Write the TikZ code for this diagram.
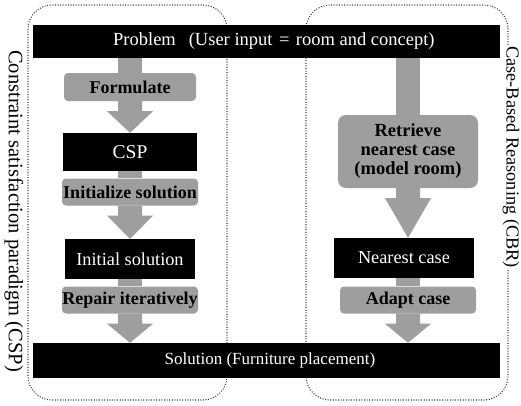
\documentclass[tikz,border=0pt]{standalone}
\usepackage{fontspec}
\setmainfont{Liberation Serif}
\usetikzlibrary{calc}
\definecolor{arrgray}{gray}{0.62}
\definecolor{framegray}{gray}{0.25}
\newcommand\mystem[3]{\path let \p1=(#1), \p2=(#2), \p3=(#3) in [fill=arrgray] ({\x1-12pt},\y2) rectangle ({\x1+12pt},\y3);}
\newcommand\myarrow[3]{\path let \p1=(#1), \p2=(#2), \p3=(#3) in [fill=arrgray] ({\x1-12pt},\y2) -- ({\x1+12pt},\y2) -- ({\x1+12pt},{\y2-10pt}) -- ({\x1+23pt},{\y2-10pt}) -- (\x1,\y3) -- ({\x1-23pt},{\y2-10pt}) -- ({\x1-12pt},{\y2-10pt}) -- cycle;}
\begin{document}
\begin{tikzpicture}[x=1pt,y=-1pt,
  bar/.style={fill=black,text=white,inner sep=0pt,minimum width=467pt,minimum height=33pt,font=\fontsize{17}{17}\selectfont},
  blackbox/.style={fill=black,text=white,inner sep=0pt,font=\fontsize{18.3}{18.3}\selectfont},
  graybox/.style={fill=arrgray,rounded corners=4pt,inner sep=0pt,font=\bfseries\fontsize{18}{18}\selectfont},
  frame/.style={draw=framegray,line width=1.1pt,dash pattern=on 1pt off 1.6pt,rounded corners=24pt},
  sidelabel/.style={rotate=-90,fill=white,inner sep=0pt}]
\useasboundingbox (0,0) rectangle (521,405);
\fill[white] (0,0) rectangle (521,405);
\draw[frame] (28,5) rectangle (227,400);
\draw[frame] (306,5) rectangle (508,400);
\node[sidelabel,font=\fontsize{20.5}{20.5}\selectfont] (lcsp) at (14,211) {Constraint satisfaction paradigm (CSP)};
\node[sidelabel,font=\fontsize{18.3}{18.3}\selectfont] (lcbr) at (511,157) {Case-Based Reasoning (CBR)};
\node[bar,font=\fontsize{18.5}{18.5}\selectfont] (P) at (266.5,41.5) {\hspace{0.8em}Problem\hspace{0.7em}(User input\hspace{0.35em}=\hspace{0.35em}room and concept)};
\node[bar,minimum height=35pt] (S) at (266.5,360.5) {\hspace{0.4em}Solution (Furniture placement)};
% left column
\node[graybox,minimum width=132pt,minimum height=28pt] (F) at (130,87) {Formulate};
\node[blackbox,minimum width=134pt,minimum height=38pt,font=\fontsize{19.5}{19.5}\selectfont] (C) at (130,152) {CSP};
\node[graybox,minimum width=136pt,minimum height=27pt] (I) at (130,192) {Initialize solution};
\node[blackbox,minimum width=130pt,minimum height=40pt] (IS) at (130,259) {Initial solution};
\node[graybox,minimum width=136pt,minimum height=27pt] (R) at (130,300) {Repair iteratively};
% right column
\node[graybox,rounded corners=8pt,minimum width=140pt,minimum height=73pt,align=center,font=\bfseries\fontsize{18.5}{19}\selectfont] (RT) at (408,151.5) {Retrieve\\nearest case\\(model room)};
\node[blackbox,minimum width=140pt,minimum height=40pt] (N) at (404,258) {Nearest case};
\node[graybox,minimum width=136pt,minimum height=27pt] (A) at (408,300) {Adapt case};
% connectors
\mystem{F.north}{P.south}{F.north}
\myarrow{F.south}{F.south}{C.north}
\mystem{C.south}{C.south}{I.north}
\myarrow{I.south}{I.south}{IS.north}
\mystem{IS.south}{IS.south}{R.north}
\myarrow{R.south}{R.south}{S.north}
\mystem{RT.north}{P.south}{RT.north}
\myarrow{RT.south}{RT.south}{N.north}
\mystem{A.north}{N.south}{A.north}
\myarrow{A.south}{A.south}{S.north}
\end{tikzpicture}
\end{document}
